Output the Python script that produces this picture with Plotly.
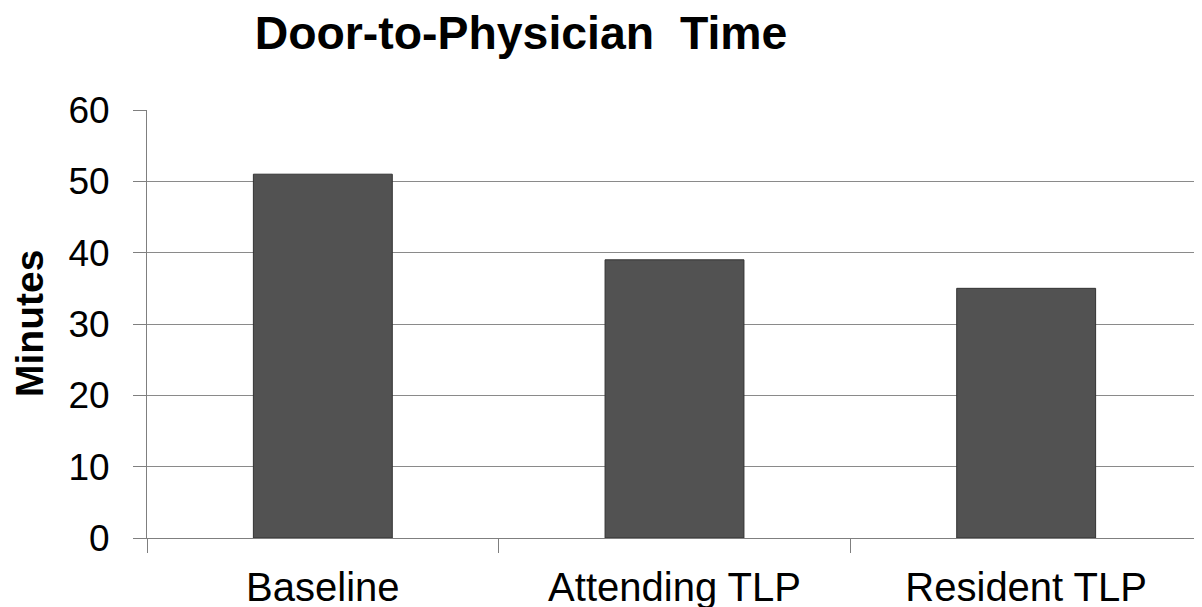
import plotly.graph_objects as go

categories = ["Baseline", "Attending TLP", "Resident TLP"]
minutes = [51, 39, 35]
y_ticks = [0, 10, 20, 30, 40, 50, 60]

W, H = 1202, 607
OFF = 8  # page body margin offset
L, T = 147 - OFF, 110 - OFF
PW, PH = 1055, 428
R = W - L - PW
B = H - T - PH

fig = go.Figure(go.Bar(
    x=categories, y=minutes, width=0.395,
    marker=dict(color="#525252", line=dict(color="#333333", width=1)),
))

fam = "Liberation Sans, Arial, sans-serif"

fig.update_layout(
    width=W, height=H,
    margin=dict(l=L, r=R, t=T, b=B, pad=0, autoexpand=False),
    paper_bgcolor="white", plot_bgcolor="white",
    showlegend=False,
    title=dict(
        text="<b>Door-to-Physician&nbsp;&nbsp;Time</b>",
        font=dict(family=fam, size=46.4, color="black"),
        xref="container", yref="container",
        x=(521 - OFF) / W, y=1 - (33 - OFF) / H, xanchor="center", yanchor="middle",
    ),
    xaxis=dict(
        automargin=False,
        showgrid=False, showline=True, linecolor="#7f7f7f", linewidth=1,
        ticks="outside", tickson="boundaries", ticklen=14, tickcolor="#7f7f7f",
        tickfont=dict(family=fam, size=40, color="black"), ticklabelstandoff=14,
        range=[-0.5, 2.5],
    ),
    yaxis=dict(
        automargin=False,
        range=[0, 60], tickvals=y_ticks,
        showgrid=True, gridcolor="#8a8a8a", gridwidth=1,
        showline=True, linecolor="#7f7f7f", linewidth=1,
        ticks="outside", ticklen=13, tickcolor="#7f7f7f",
        tickfont=dict(family=fam, size=37, color="black"), ticklabelstandoff=16,
        zeroline=False,
    ),
    annotations=[dict(
        text="<b>Minutes</b>", textangle=-90,
        xref="paper", yref="paper",
        x=(29 - OFF - L) / PW, y=0.5,
        xanchor="center", yanchor="middle", showarrow=False,
        font=dict(family=fam, size=39, color="black"),
    )],
)

fig.write_html("out.html")
